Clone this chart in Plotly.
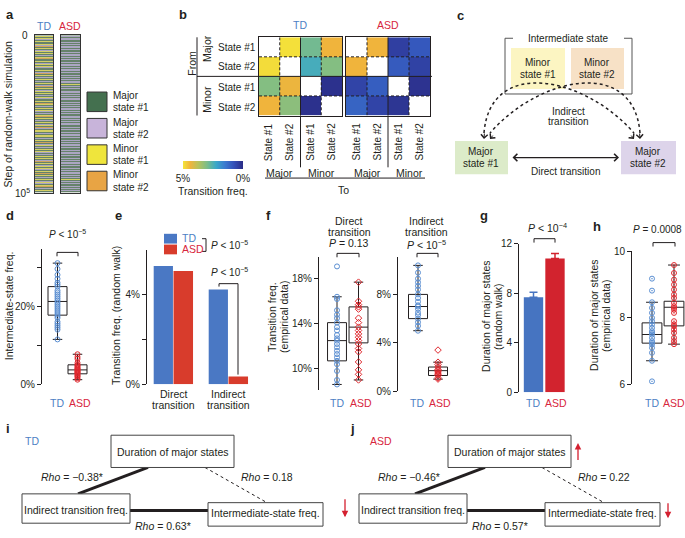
import plotly.graph_objects as go

W, H = 685, 538
FONT = "Liberation Sans, Arial, Helvetica, sans-serif"
INK = "#231f20"
TD_TXT = "#4d7fc4"
ASD_TXT = "#d7263d"
TD_PT = "#5b8fd2"
ASD_PT = "#e0282e"

# ---------------- data ----------------
# panel a : state sequence of the random walk (1=Major#1, 2=Major#2, 3=Minor#1, 4=Minor#2)
state_names = ["Major<br>state #1", "Major<br>state #2", "Minor<br>state #1", "Minor<br>state #2"]
state_colors = ["#44704f", "#c8b4da", "#efe53c", "#e8a444"]
walk_colors = ["#66826a", "#aca6c2", "#d4cf64", "#d0a35c"]
td_walk = ("1313213113241312313121341131231321131241"
           "3121331213124131231312132113143121313212"
           "1341312131231421313121331213141231213132"
           "1213131241312313213141312131231213412131")
asd_walk = ("1212211212122121121221212112122121221211"
            "2121121221312121122121212211212121221212"
            "1122121212211212141212212112121221211212"
            "2121121212212112121221212131212211212121")

# panel b : transition frequency (%) from row state to column state
b_row_labels = ["State #1", "State #2", "State #1", "State #2"]
b_group_labels = ["Major", "Minor", "Major", "Minor"]
NA = None
b_td = [[NA, 4.95, 2.9, 4.4],
        [4.9, NA, 2.4, 3.1],
        [3.1, 4.35, NA, 0.1],
        [4.4, 3.2, 0.1, NA]]
b_asd = [[NA, 4.4, 0.4, 0.9],
         [4.4, NA, 0.95, 0.45],
         [0.5, 1.0, NA, 0.15],
         [1.1, 0.5, 0.2, NA]]

# panel d : intermediate-state frequency (%)
d_td_box = [17.7, 21.2, 25.0, 11.5, 31.0]     # q1, median, q3, lower, upper
d_asd_box = [2.7, 3.7, 5.0, 1.2, 7.7]
d_td_pts = [31, 29.5, 28, 27, 26, 25.5, 25, 24, 23.5, 23, 22.5, 22, 21.5, 21, 20.5,
            20, 19.5, 19, 18.5, 18, 17.5, 17, 16, 15.5, 15, 14.5, 14, 11.5]
d_asd_pts = [7.7, 7, 6.5, 5.5, 5, 4.8, 4.5, 4.2, 4, 3.8, 3.6, 3.4, 3.2, 3, 2.8,
             2.5, 2.2, 2, 1.6, 1.2]

# panel e : transition frequency, random walk (%)
e_categories = ["Direct<br>transition", "Indirect<br>transition"]
e_td = [5.26, 4.22]
e_asd = [5.04, 0.35]

# panel f : transition frequency, empirical (%)
f_dir_td_box = [10.7, 12.5, 14.1, 8.6, 16.4]
f_dir_asd_box = [12.3, 13.7, 15.5, 9.0, 17.7]
f_dir_td_pts = [19.1, 16.4, 16.2, 15.2, 14.8, 14.5, 14.1, 13.7, 13.4, 13.0, 12.7, 12.5,
                12.2, 11.9, 11.6, 11.3, 11.0, 10.7, 10.4, 9.8, 9.0, 8.6]
f_dir_asd_pts = [17.7, 16.0, 15.7, 15.5, 15.3, 14.5, 14.1, 13.7, 13.4, 13.1, 12.8,
                 12.5, 12.2, 11.8, 11.5, 10.6, 9.9, 9.5, 9.0]
f_ind_td_box = [6.0, 7.0, 8.0, 5.0, 10.4]
f_ind_asd_box = [1.3, 1.7, 2.0, 1.0, 2.4]
f_ind_td_pts = [10.4, 9.8, 9.3, 9.0, 8.7, 8.4, 8.0, 7.7, 7.4, 7.1, 7.0, 6.8, 6.5, 6.3,
                6.0, 5.7, 5.4, 5.0]
f_ind_asd_pts = [3.4, 2.4, 2.2, 2.0, 1.8, 1.7, 1.6, 1.5, 1.4, 1.3, 1.1, 1.0]

# panel g : duration of major states, random walk
g_td, g_td_err = 7.66, 0.4
g_asd, g_asd_err = 10.8, 0.4

# panel h : duration of major states, empirical
h_td_box = [7.24, 7.5, 7.85, 6.71, 8.47]
h_asd_box = [7.76, 8.32, 8.5, 7.21, 9.59]
h_td_pts = [9.18, 8.82, 8.47, 8.3, 8.15, 8.0, 7.9, 7.8, 7.7, 7.6, 7.55, 7.5, 7.4, 7.3,
            7.25, 7.2, 7.1, 6.95, 6.71, 6.09]
h_asd_pts = [9.59, 9.35, 9.15, 9.0, 8.85, 8.7, 8.6, 8.45, 8.35, 8.3, 8.25, 8.15, 7.9,
             7.8, 7.75, 7.65, 7.55, 7.4, 7.3, 7.21]

# panels i, j : correlations
node_labels = ["Duration of major states", "Indirect transition freq.", "Intermediate-state freq."]
i_rho = ["\u22120.38*", "0.18", "0.63*"]
j_rho = ["\u22120.46*", "0.22", "0.57*"]

# ---------------- helpers ----------------
def xdom(x0, x1):
    return [x0 / W, x1 / W]

def ydom(y0, y1):
    return [1 - y1 / H, 1 - y0 / H]

def lin(pa, va, pb, vb, p):
    return va + (p - pa) * (vb - va) / (pb - pa)

fig = go.Figure()
shapes, anns = [], []
C = dict(xref="x11", yref="y11")

def T(x, y, text, size=10, color=INK, xa="center", angle=0, bold=False, ls=11.5):
    lines = text.split("<br>") if angle == 0 else [text]
    n = len(lines)
    for k, ln in enumerate(lines):
        t = "<b>" + ln + "</b>" if bold else ln
        anns.append(dict(x=x, y=y + (k - (n - 1) / 2) * ls, text=t, showarrow=False,
                         xanchor=xa, yanchor="middle", textangle=angle,
                         font=dict(size=size, color=color, family=FONT), **C))

def L(x0, y0, x1, y1, w=1, color=INK, dash="solid"):
    shapes.append(dict(type="line", x0=x0, y0=y0, x1=x1, y1=y1,
                       line=dict(width=w, color=color, dash=dash), layer="above", **C))

def R(x0, y0, x1, y1, fill="rgba(0,0,0,0)", lc=INK, lw=1):
    shapes.append(dict(type="rect", x0=x0, y0=y0, x1=x1, y1=y1, fillcolor=fill,
                       line=dict(width=lw, color=lc), layer="above", **C))

def PTH(path, w=1, color=INK, dash="solid"):
    shapes.append(dict(type="path", path=path, line=dict(width=w, color=color, dash=dash),
                       layer="above", **C))

def ARW(x, y, ax, ay, color=INK, w=1, head=2, size=1, side="end"):
    anns.append(dict(x=x, y=y, ax=ax, ay=ay, axref="x11", ayref="y11", showarrow=True,
                     arrowhead=head, startarrowhead=head, arrowsize=size, startarrowsize=size,
                     arrowwidth=w, arrowcolor=color, arrowside=side, text="",
                     standoff=0, startstandoff=0, **C))

def BR(x0, x1, y, tick=4):
    PTH(f"M {x0},{y + tick} L {x0},{y} L {x1},{y} L {x1},{y + tick}")

def yax(dom, rng, tv, tt):
    return dict(domain=dom, range=rng, showline=True, linecolor=INK, linewidth=1,
                ticks="outside", ticklen=4, tickwidth=1, tickcolor=INK,
                tickvals=tv, ticktext=tt, tickfont=dict(size=10, family=FONT, color=INK),
                showgrid=False, zeroline=False, fixedrange=True)

def xax(dom, rng):
    return dict(domain=dom, range=rng, visible=False, fixedrange=True)

def frame_ax(dom, rng, lc="#555"):
    return dict(domain=dom, range=rng, showline=True, mirror=True, linecolor=lc, linewidth=1,
                showticklabels=False, ticks="", showgrid=False, zeroline=False, fixedrange=True)

def add_box(ax, pos, st, width, ww=0.5):
    q1, med, q3, lo, hi = st
    fig.add_trace(go.Box(x=[pos], q1=[q1], median=[med], q3=[q3], lowerfence=[lo],
                         upperfence=[hi], width=width, whiskerwidth=ww, boxpoints=False,
                         line=dict(color=INK, width=1), fillcolor="rgba(255,255,255,0)",
                         xaxis="x" + ax, yaxis="y" + ax, showlegend=False, hoverinfo="skip"))

def add_pts(ax, pos, vals, color, symbol="circle-open", size=5):
    fig.add_trace(go.Scatter(x=[pos] * len(vals), y=vals, mode="markers",
                             marker=dict(symbol=symbol, size=size, color=color,
                                         line=dict(width=1, color=color)),
                             xaxis="x" + ax, yaxis="y" + ax, showlegend=False, hoverinfo="skip"))

layout_axes = {}

# ---------------- panel a ----------------
disc = []
for k, c in enumerate(walk_colors):
    disc += [[k / 4, c], [(k + 1) / 4, c]]
for ax, seq, x0, x1 in [("", td_walk, 35, 53), ("2", asd_walk, 61, 80)]:
    fig.add_trace(go.Heatmap(z=[[int(ch)] for ch in seq], zmin=0.5, zmax=4.5, colorscale=disc,
                             showscale=False, xaxis="x" + ax, yaxis="y" + ax, hoverinfo="skip"))
    layout_axes["xaxis" + ax] = dict(frame_ax(xdom(x0, x1), [-0.5, 0.5], "#333"), anchor="y" + ax)
    layout_axes["yaxis" + ax] = dict(frame_ax(ydom(30, 191), [len(seq) - 0.5, -0.5], "#333"), anchor="x" + ax)

T(4, 9, "a", 13, bold=True, xa="left")
T(44, 20, "TD", 10.5, TD_TXT)
T(70, 20, "ASD", 10.5, ASD_TXT)
T(30, 30, "0", 10, xa="right")
T(32, 191, "10<sup>5</sup>", 10, xa="right")
T(8, 111, "Step of random-walk simulation", 10.5, angle=-90)
for k, (nm, col) in enumerate(zip(state_names, state_colors)):
    yt = [88, 115, 142, 169][k]
    R(87, yt, 107, yt + 20, fill=col, lc="#333")
    T(111, yt + 10, nm, 10, xa="left", ls=12.5)

# ---------------- panel b ----------------
cmap = [[0, "#2b2c86"], [0.15, "#3450b8"], [0.3, "#3a7ad0"], [0.45, "#3aa8c8"],
        [0.6, "#7cbd88"], [0.75, "#b9c25a"], [0.88, "#f0b43c"], [1, "#f4e43a"]]
cmap_rev = [[round(1 - t, 4), c] for t, c in reversed(cmap)]
for ax, z, x0, x1 in [("3", b_td, 259, 342), ("4", b_asd, 346, 430)]:
    fig.add_trace(go.Heatmap(z=z, zmin=0, zmax=5, colorscale=cmap, showscale=False,
                             xaxis="x" + ax, yaxis="y" + ax, hoverinfo="skip"))
    layout_axes["xaxis" + ax] = dict(frame_ax(xdom(x0, x1), [-0.5, 3.5], INK), anchor="y" + ax)
    layout_axes["yaxis" + ax] = dict(frame_ax(ydom(32, 112), [3.5, -0.5], INK), anchor="x" + ax)
    for v in [0.5, 2.5]:
        for (a0, a1, b0, b1) in [(v, v, -0.5, 3.5), (-0.5, 3.5, v, v)]:
            shapes.append(dict(type="line", x0=a0, x1=a1, y0=b0, y1=b1, xref="x" + ax,
                               yref="y" + ax, line=dict(width=1, color=INK, dash="3px,2px"),
                               layer="above"))
    shapes.append(dict(type="line", x0=1.5, x1=1.5, y0=-0.5, y1=3.5, xref="x" + ax,
                       yref="y" + ax, line=dict(width=1, color=INK), layer="above"))
    cw = (x1 - x0) / 4
    for k in range(4):
        T(x0 + cw * (k + 0.5), 139, b_row_labels[k], 10, angle=-90)
    T(x0 + cw, 171, b_group_labels[0], 10.5)
    T(x0 + cw * 3, 171, b_group_labels[1], 10.5)
    L(x0 + cw * 2, 112, x0 + cw * 2, 165)

# colour bar (reversed: 5% on the left)
fig.add_trace(go.Scatter(x=[0], y=[0], mode="markers", xaxis="x3", yaxis="y3", hoverinfo="skip",
                         showlegend=False,
                         marker=dict(size=1, opacity=0, color=[0], cmin=0, cmax=5,
                                     colorscale=cmap_rev, showscale=True,
                                     colorbar=dict(orientation="h", x=183 / W, xanchor="left",
                                                   y=1 - 159 / H, yanchor="top", len=60,
                                                   lenmode="pixels", thickness=8,
                                                   thicknessmode="pixels", xpad=0, ypad=0,
                                                   outlinewidth=0, tickvals=[0, 5],
                                                   ticktext=["5%", "0%"], ticks="",
                                                   tickfont=dict(size=10, family=FONT, color=INK)))))
T(213, 189, "Transition freq.", 10.5)
T(177, 9, "b", 13, bold=True, xa="left")
T(300, 19, "TD", 10.5, TD_TXT)
T(388, 19, "ASD", 10.5, ASD_TXT)
T(192, 59, "From", 10.5, angle=-90)
T(207, 44, "Major", 10.5, angle=-90)
T(207, 96, "Minor", 10.5, angle=-90)
L(197, 32, 197, 112)
L(197, 72, 432, 72)
for k, yy in enumerate([42, 62, 83, 104]):
    T(237, yy, b_row_labels[k], 10)
L(265, 176, 425, 176)
T(343, 188, "To", 10.5)

# ---------------- panel c ----------------
T(455, 10, "c", 13, bold=True, xa="left")
PTH("M 513,33 L 505,33 L 505,90 L 632,90 L 632,33 L 624,33", w=1, color="#555")
T(568, 33, "Intermediate state", 10)
R(511, 43, 565, 85, fill="#fcf5c2", lc="rgba(0,0,0,0)")
R(571, 43, 624, 85, fill="#f7e1c6", lc="rgba(0,0,0,0)")
T(538, 64, "Minor<br>state #1", 10)
T(597, 64, "Minor<br>state #2", 10)
R(455, 138, 508, 172, fill="#dcebc9", lc="rgba(0,0,0,0)")
R(621, 138, 676, 172, fill="#ddd4ea", lc="rgba(0,0,0,0)")
T(481, 155, "Major<br>state #1", 10)
T(648, 155, "Major<br>state #2", 10)
ARW(619, 155, 511, 155, w=1.2, head=4, size=1.2, side="end+start")
T(565, 169, "Direct transition", 10)
T(568, 113, "Indirect<br>transition", 10, ls=10.5)
PTH("M 484,130 C 490,52 585,72 634,130", w=1.5, dash="dot")
PTH("M 640,130 C 634,52 539,72 490,130", w=1.5, dash="dot")
ARW(484, 136, 484.5, 129, w=1, head=4, size=1.3)
ARW(634, 136, 630, 131, w=1, head=4, size=1.3)
ARW(640, 136, 639.5, 129, w=1, head=4, size=1.3)
ARW(490, 136, 494, 131, w=1, head=4, size=1.3)

# ---------------- panel d ----------------
layout_axes["xaxis5"] = dict(xax(xdom(42, 95), [lin(57.5, 0, 77.5, 1, 42), lin(57.5, 0, 77.5, 1, 95)]), anchor="y5")
layout_axes["yaxis5"] = dict(yax(ydom(249, 387), [0, lin(387, 0, 307, 20, 249)], [0, 10, 20, 30],
                                 ["0%", " ", "20%", " "]), anchor="x5")
add_box("5", 0, d_td_box, 0.95)
add_box("5", 1, d_asd_box, 0.95)
add_pts("5", 0, d_td_pts, TD_PT)
add_pts("5", 1, d_asd_pts, ASD_PT)
T(4, 214, "d", 13, bold=True, xa="left")
T(9, 307, "Intermediate-state freq.", 10.5, angle=-90)
BR(57, 78, 252)
T(67, 233, "<i>P</i> &lt; 10<sup>\u22125</sup>", 10)
T(57, 406, "TD", 10.5, TD_TXT)
T(80, 406, "ASD", 10.5, ASD_TXT)

# ---------------- panel e ----------------
layout_axes["xaxis6"] = dict(xax(xdom(147, 258), [lin(173.5, 0, 228.5, 1, 147), lin(173.5, 0, 228.5, 1, 258)]), anchor="y6")
layout_axes["yaxis6"] = dict(yax(ydom(250, 387), [0, lin(387, 0, 295, 4, 250)], [0, 2, 4, 6],
                                 ["0%", " ", "4%", " "]), anchor="x6")
fig.add_trace(go.Bar(x=[0, 1], y=e_td, width=0.35, offset=-0.36, marker=dict(color="#4a78c4", line=dict(width=0)),
                     xaxis="x6", yaxis="y6", showlegend=False, hoverinfo="skip"))
fig.add_trace(go.Bar(x=[0, 1], y=e_asd, width=0.355, offset=0.0, marker=dict(color="#d83c2c", line=dict(width=0)),
                     xaxis="x6", yaxis="y6", showlegend=False, hoverinfo="skip"))
T(113, 214, "e", 13, bold=True, xa="left")
T(116, 317, "Transition freq. (random walk)", 10.5, angle=-90)
T(173.5, 402.5, e_categories[0], 10.5, ls=11)
T(228.5, 402.5, e_categories[1], 10.5, ls=11)
R(164, 233, 177, 243, fill="#4a78c4", lc="rgba(0,0,0,0)")
R(164, 244, 177, 254, fill="#d83c2c", lc="rgba(0,0,0,0)")
T(180, 237, "TD", 10.5, TD_TXT, xa="left")
T(180, 249, "ASD", 10.5, ASD_TXT, xa="left")
PTH("M 202,238 L 206,238 L 206,251 L 202,251")
T(209, 244, "<i>P</i> &lt; 10<sup>\u22125</sup>", 10, xa="left")
PTH("M 219,287 L 219,284 L 238,284 L 238,377")
T(229, 272, "<i>P</i> &lt; 10<sup>\u22125</sup>", 10)

# ---------------- panel f ----------------
layout_axes["xaxis7"] = dict(xax(xdom(319, 372), [lin(337, 0, 358.5, 1, 319), lin(337, 0, 358.5, 1, 372)]), anchor="y7")
layout_axes["yaxis7"] = dict(yax(ydom(257, 393), [lin(371, 10, 279, 18, 393), lin(371, 10, 279, 18, 257)],
                                 [10, 14, 18], ["10%", "14%", "18%"]), anchor="x7")
add_box("7", 0, f_dir_td_box, 0.88)
add_box("7", 1, f_dir_asd_box, 0.88)
add_pts("7", 0, f_dir_td_pts, TD_PT)
add_pts("7", 1, f_dir_asd_pts, ASD_PT, symbol="diamond-open")
layout_axes["xaxis8"] = dict(xax(xdom(398, 452), [lin(418, 0, 438, 1, 398), lin(418, 0, 438, 1, 452)]), anchor="y8")
layout_axes["yaxis8"] = dict(yax(ydom(257, 394), [0, lin(394, 0, 295, 8, 257)],
                                 [0, 4, 8], ["0%", "4%", "8%"]), anchor="x8")
add_box("8", 0, f_ind_td_box, 0.95)
add_box("8", 1, f_ind_asd_box, 0.95)
add_pts("8", 0, f_ind_td_pts, TD_PT)
add_pts("8", 1, f_ind_asd_pts, ASD_PT, symbol="diamond-open")
T(264, 214, "f", 13, bold=True, xa="left")
T(272, 318, "Transition freq.", 10.5, angle=-90)
T(284, 318, "(empirical data)", 10.5, angle=-90)
T(349, 225.5, "Direct<br>transition", 10.5, ls=11)
T(349, 242, "<i>P</i> = 0.13", 10.5)
BR(337, 359, 253)
T(426, 225.5, "Indirect<br>transition", 10.5, ls=11)
T(426, 244, "<i>P</i> &lt; 10<sup>\u22125</sup>", 10.5)
BR(417, 438, 253)
T(337, 406, "TD", 10.5, TD_TXT)
T(361, 406, "ASD", 10.5, ASD_TXT)
T(417, 406, "TD", 10.5, TD_TXT)
T(440, 406, "ASD", 10.5, ASD_TXT)

# ---------------- panel g ----------------
layout_axes["xaxis9"] = dict(xax(xdom(519, 572), [lin(533.5, 0, 555, 1, 519), lin(533.5, 0, 555, 1, 572)]), anchor="y9")
layout_axes["yaxis9"] = dict(yax(ydom(243, 395), [0, 12], [0, 4, 8, 12], ["0", "4", "8", "12"]), anchor="x9")
fig.add_trace(go.Bar(x=[0], y=[g_td], width=0.9, marker=dict(color="#4674c1", line=dict(width=0)),
                     error_y=dict(type="data", array=[g_td_err], arrayminus=[0], symmetric=False,
                                  color="#4674c1", thickness=1.5, width=4),
                     xaxis="x9", yaxis="y9", showlegend=False, hoverinfo="skip"))
fig.add_trace(go.Bar(x=[1], y=[g_asd], width=0.9, marker=dict(color="#d2232e", line=dict(width=0)),
                     error_y=dict(type="data", array=[g_asd_err], arrayminus=[0], symmetric=False,
                                  color="#d2232e", thickness=1.5, width=4),
                     xaxis="x9", yaxis="y9", showlegend=False, hoverinfo="skip"))
T(478, 214, "g", 13, bold=True, xa="left")
T(486, 318, "Duration of major states", 10.5, angle=-90)
T(498, 318, "(random walk)", 10.5, angle=-90)
BR(534, 555, 238)
T(547, 227, "<i>P</i> &lt; 10<sup>\u22124</sup>", 10.5)
T(533, 406, "TD", 10.5, TD_TXT)
T(556, 406, "ASD", 10.5, ASD_TXT)

# ---------------- panel h ----------------
layout_axes["xaxis10"] = dict(xax(xdom(632, 685), [lin(652, 0, 674, 1, 632), lin(652, 0, 674, 1, 685)]), anchor="y10")
layout_axes["yaxis10"] = dict(yax(ydom(251, 387), [6, lin(387, 6, 319, 8, 251)], [6, 8, 10], ["6", "8", "10"]), anchor="x10")
add_box("10", 0, h_td_box, 0.9, 0.6)
add_box("10", 1, h_asd_box, 0.9, 0.6)
add_pts("10", 0, h_td_pts, TD_PT, symbol="circle-open-dot")
add_pts("10", 1, h_asd_pts, ASD_PT, symbol="circle-open-dot")
T(591, 226, "h", 13, bold=True, xa="left")
T(594, 317, "Duration of major states", 10.5, angle=-90)
T(606, 317, "(empirical data)", 10.5, angle=-90)
BR(653, 675, 242)
T(684, 229, "<i>P</i> = 0.0008", 10, xa="right")
T(652, 406, "TD", 10.5, TD_TXT)
T(674, 406, "ASD", 10.5, ASD_TXT)

# ---------------- panels i, j ----------------
for dx, tag, grp, gcol, rho in [(0, "i", "TD", TD_TXT, i_rho), (337, "j", "ASD", ASD_TXT, j_rho)]:
    T(4 + dx + (7 if tag == "j" else 0), 432, tag, 13, bold=True, xa="left")
    T(23 + dx + (8 if tag == "j" else 0), 445, grp, 10.5, gcol, xa="left")
    L(148 + dx, 472, 78 + dx, 499, w=3)
    L(205 + dx, 472, 267 + dx, 508, w=1, dash="dot")
    L(130 + dx, 516, 208 + dx, 516, w=3)
    R(111 + dx, 439, 234 + dx, 472, fill="white", lc="#444")
    R(22 + dx, 499, 130 + dx, 529, fill="white", lc="#444")
    R(208 + dx, 508, 323 + dx, 532, fill="white", lc="#444")
    T(172 + dx, 456, node_labels[0], 10.5)
    T(76 + dx, 515, node_labels[1], 10.5)
    T(265 + dx, 519, node_labels[2], 10.5)
    T(72 + dx, 482, "<i>Rho</i> = " + rho[0], 10.5)
    T(267 + dx, 482, "<i>Rho</i> = " + rho[1], 10.5)
    T(163 + dx, 532, "<i>Rho</i> = " + rho[2], 10.5)
ARW(578, 447, 578, 466, color="#d42030", w=1.3, head=2, size=1)
ARW(345, 523, 345, 503, color="#d42030", w=1.3, head=2, size=1)
ARW(668, 524, 668, 507, color="#d42030", w=1.3, head=2, size=1)

# ---------------- canvas (pixel-unit overlay) ----------------
fig.add_trace(go.Scatter(x=[None], y=[None], xaxis="x11", yaxis="y11", showlegend=False, hoverinfo="skip"))
layout_axes["xaxis11"] = dict(domain=[0, 1], range=[0, W], visible=False, fixedrange=True, anchor="y11")
layout_axes["yaxis11"] = dict(domain=[0, 1], range=[H, 0], visible=False, fixedrange=True, anchor="x11")

fig.update_layout(width=W, height=H, margin=dict(l=0, r=0, t=0, b=0), paper_bgcolor="white",
                  plot_bgcolor="rgba(0,0,0,0)", showlegend=False, barmode="overlay",
                  font=dict(family=FONT, size=10, color=INK), shapes=shapes, annotations=anns,
                  **layout_axes)
fig.write_html("out.html", config={"displayModeBar": False},
               post_script="document.body.style.margin='0px';document.body.style.overflow='hidden';")
